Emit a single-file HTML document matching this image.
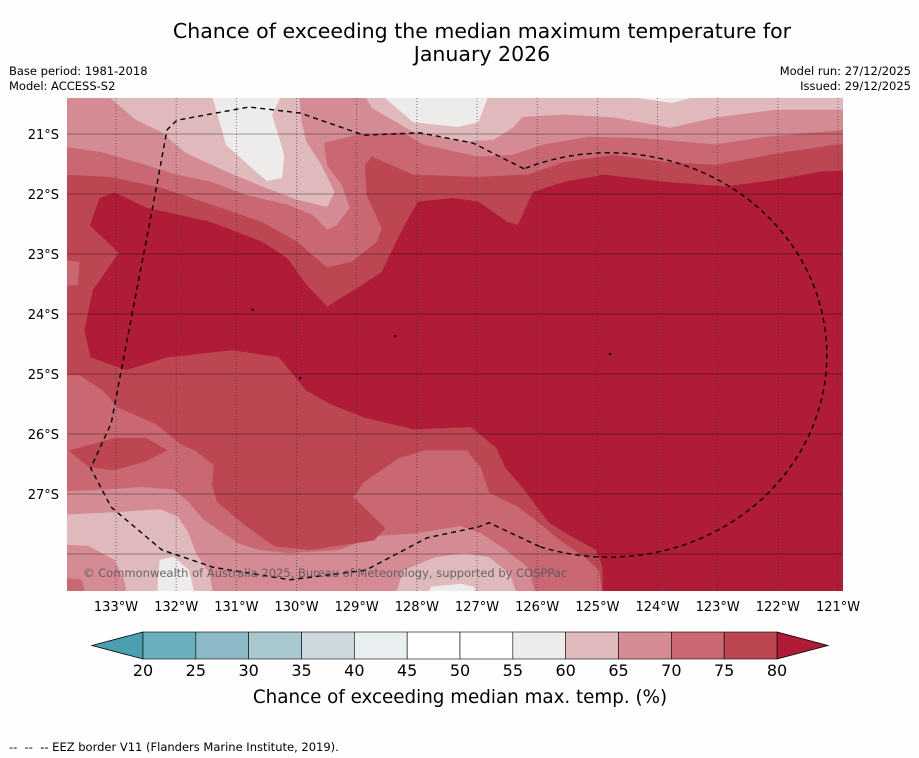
<!DOCTYPE html>
<html><head><meta charset="utf-8">
<style>
html,body{margin:0;padding:0;background:#fff;}
svg{display:block;font-family:"DejaVu Sans","Liberation Sans",sans-serif;}
</style></head>
<body>
<svg id="chart" width="919" height="758" viewBox="0 0 919 758" xmlns="http://www.w3.org/2000/svg">
  <rect x="0" y="0" width="919" height="758" fill="#fefefe"/>
  <text x="482" y="38" font-size="20.5" text-anchor="middle" fill="#000">Chance of exceeding the median maximum temperature for</text>
  <text x="482" y="61" font-size="20.5" text-anchor="middle" fill="#000">January 2026</text>
  <text x="9" y="75" font-size="11.5" fill="#000">Base period: 1981-2018</text>
  <text x="9" y="90" font-size="11.5" fill="#000">Model: ACCESS-S2</text>
  <text x="911" y="75" font-size="11.5" text-anchor="end" fill="#000">Model run: 27/12/2025</text>
  <text x="911" y="90" font-size="11.5" text-anchor="end" fill="#000">Issued: 29/12/2025</text>
  <defs><clipPath id="mapclip"><rect x="67" y="98" width="776" height="493"/></clipPath></defs>
  <g id="map" clip-path="url(#mapclip)"></g>
  <g id="axes"></g>
  <g id="cbar"></g>
  <text x="460" y="703" font-size="18.3" text-anchor="middle" fill="#000">Chance of exceeding median max. temp. (%)</text>
  <text x="9" y="751" font-size="11.5" fill="#000" xml:space="preserve" style="white-space:pre">--  --  -- EEZ border V11 (Flanders Marine Institute, 2019).</text>
</svg>
<script>
// ---- data ----
const lonTicks = [133,132,131,130,129,128,127,126,125,124,123,122,121];
const latTicks = [21,22,23,24,25,26,27];
const latLines = [21,22,23,24,25,26,27,28];
const levels = [20,25,30,35,40,45,50,55,60,65,70,75,80];
const levelColors = ["#6aafbd","#8bb9c5","#a9c8cd","#ccd8dd","#eaeff1","#ffffff","#ffffff","#eeeceb","#e0b9bd","#d48b94","#c96872","#bd4653"];
const underColor = "#4aa0b0";
const overColor = "#b01c38";
// contour regions [lonW, latS]
const blobA = [[131.50,20.0],[131.17,21.18],[130.67,21.63],[130.49,21.78],[130.24,21.73],[130.21,21.35],[130.32,20.97],[130.41,20.68],[130.08,20.0]];
const blobB = [[128.99,20.0],[128.06,20.80],[127.32,20.88],[126.98,20.80],[126.68,20.0]];
const blobC = [[124.40,20.0],[124.31,20.40],[123.76,20.48],[123.46,20.40],[123.40,20.0]];
const blobD = [[132.34,29],[132.27,28.10],[132.04,28.05],[131.79,28.27],[131.62,29]];
const blobE = [[128.0,29],[127.76,28.55],[127.28,28.50],[127.05,28.55],[126.93,29]];
const ge65 = [[134.5,20.0],[133.10,20.0],[133.10,20.40],[132.67,20.77],[132.25,20.97],[131.84,21.32],[131.17,21.63],[130.57,21.88],[129.99,22.10],[129.49,22.22],[129.36,21.97],[129.58,21.52],[129.83,21.13],[129.91,20.80],[129.99,20.0],[129.08,20.0],[128.75,20.57],[128.06,20.97],[127.23,21.13],[126.73,21.10],[126.40,20.90],[126.24,20.72],[125.55,20.68],[124.72,20.73],[123.79,20.90],[123.04,20.73],[122.05,20.60],[120.5,20.60],[120.5,29],[126.22,29],[126.45,28.33],[126.80,28.05],[127.22,27.98],[127.70,28.05],[128.23,28.27],[128.46,29],[131.32,29],[131.44,28.33],[131.67,27.98],[131.79,27.65],[131.97,27.37],[132.27,27.25],[133.03,27.30],[134.5,27.37]];
const ge65corner = [[134.5,27.82],[133.45,27.87],[133.03,28.10],[132.87,28.43],[132.75,29],[134.5,29]];
const ge70 = [[134.5,21.13],[133.27,21.30],[132.67,21.47],[132.0,21.68],[131.42,21.80],[130.84,22.02],[130.16,22.18],[129.74,22.35],[129.49,22.60],[129.33,22.52],[129.11,22.23],[129.24,21.85],[129.49,21.52],[129.54,21.15],[128.91,21.0],[128.23,20.98],[127.90,21.18],[126.98,21.38],[126.40,21.35],[125.89,21.18],[125.14,21.05],[124.31,21.07],[123.04,21.18],[122.21,21.05],[120.5,20.90],[120.5,29],[125.92,29],[126.15,28.22],[126.52,27.93],[126.93,27.65],[127.28,27.53],[128.0,27.65],[128.71,27.70],[129.29,27.93],[130.12,27.98],[130.61,27.93],[130.96,27.82],[131.32,27.58],[131.55,27.42],[131.79,27.13],[132.04,26.92],[132.57,26.88],[133.33,26.93],[134.5,26.97]];
const ge70corner = [[134.5,28.33],[133.58,28.43],[133.40,29],[134.5,29]];
const ge75 = [[134.5,21.65],[133.10,21.72],[132.25,21.90],[131.42,22.18],[130.57,22.47],[129.99,22.80],[129.49,23.23],[129.08,23.13],[128.66,22.80],[128.58,22.57],[128.83,22.02],[128.86,21.52],[128.75,21.38],[128.06,21.68],[126.98,21.72],[126.15,21.68],[125.55,21.47],[124.72,21.35],[123.88,21.47],[123.04,21.52],[121.96,21.32],[121.03,21.18],[120.5,21.18],[120.5,29],[124.86,29],[124.97,28.27],[125.21,28.05],[125.62,27.77],[126.04,27.42],[126.34,27.20],[126.80,26.97],[126.93,26.57],[127.17,26.27],[127.88,26.27],[128.30,26.40],[128.88,26.80],[129.06,27.05],[128.53,27.57],[128.71,27.77],[129.78,27.93],[130.37,27.87],[130.84,27.53],[131.32,27.13],[131.40,26.85],[131.37,26.52],[131.67,26.28],[131.92,26.17],[132.34,25.83],[132.98,25.55],[133.22,25.27],[133.60,25.02],[134.5,24.97],[134.5,23.60],[133.63,23.52],[133.60,23.13],[134.5,23.02]];
const ge75lens = [[133.78,26.28],[133.03,26.07],[132.50,26.07],[132.15,26.27],[132.50,26.45],[133.03,26.60],[133.45,26.55]];
const ge80 = [[133.43,22.52],[133.27,22.07],[133.02,21.98],[132.50,22.23],[131.42,22.47],[130.57,22.80],[130.16,23.07],[129.83,23.52],[129.49,23.88],[128.99,23.57],[128.58,23.30],[128.23,22.57],[127.98,22.13],[127.40,22.07],[126.98,22.13],[126.49,22.47],[126.32,22.52],[126.07,21.97],[125.55,21.80],[124.89,21.68],[123.88,21.80],[122.88,21.88],[122.05,21.77],[121.28,21.63],[120.5,21.60],[120.5,29],[124.91,29],[124.91,28.22],[125.02,27.93],[125.44,27.70],[125.80,27.48],[126.22,26.92],[126.52,26.57],[126.68,26.23],[127.10,25.88],[128.05,25.92],[128.88,25.72],[129.43,25.50],[129.84,25.27],[130.29,24.72],[131.06,24.60],[132.15,24.72],[132.83,24.93],[133.42,24.72],[133.52,24.27],[133.38,23.60],[132.95,22.98]];
const eezWest = [[126.22,21.58],[127.07,21.15],[127.95,20.98],[128.88,21.02],[129.94,20.65],[130.79,20.55],[131.99,20.77],[132.15,20.93],[132.40,22.27],[132.92,24.98],[133.08,25.82],[133.42,26.57],[133.08,27.22],[132.24,27.93],[131.39,28.22],[130.11,28.43],[128.85,28.27],[128.0,27.82],[127.83,27.73],[126.98,27.55],[126.80,27.48],[125.95,27.88]];
const eezCenter = [124.76,24.68];
const eezRadius = [3.62,3.37];
const islands = [[130.73,23.93],[128.36,24.37],[129.94,25.07],[124.79,24.67]];

// ---- axes functions ----
const NS="http://www.w3.org/2000/svg";
function xOf(w){return 116+(133-w)*60.17;}
function yOf(s){return 134+(s-21)*60;}
function ptsStr(arr){return arr.map(p=>xOf(p[0]).toFixed(1)+","+yOf(p[1]).toFixed(1)).join(" ");}
function mk(tag,attrs,parent){const e=document.createElementNS(NS,tag);for(const k in attrs)e.setAttribute(k,attrs[k]);parent.appendChild(e);return e;}

const map=document.getElementById('map');
const bg=mk('rect',{x:67,y:98,width:776,height:493,fill:"#e0b9bd"},map);


const layers=[
 [blobA,"#eeeceb","contour-55-60-a"],[blobB,"#eeeceb","contour-55-60-b"],[blobC,"#eeeceb","contour-55-60-c"],
 [blobD,"#eeeceb","contour-55-60-d"],[blobE,"#eeeceb","contour-55-60-e"],
 [ge65,"#d48b94","contour-65-70"],[ge65corner,"#d48b94","contour-65-70-corner"],
 [ge70,"#c96872","contour-70-75"],[ge70corner,"#c96872","contour-70-75-corner"],
 [ge75,"#bd4653","contour-75-80"],[ge75lens,"#bd4653","contour-75-80-lens"],
 [ge80,overColor,"contour-above-80"]];
layers.forEach(L=>{
  const p=mk('polygon',{points:ptsStr(L[0]),fill:L[1],stroke:L[1],"stroke-width":0.5},map);
  
  
});
// gridlines
lonTicks.forEach(w=>{
  const l=mk('line',{x1:xOf(w),x2:xOf(w),y1:98,y2:591,stroke:"#333","stroke-width":0.8,"stroke-dasharray":"1,2","stroke-opacity":0.8},map);
  
  
});
latLines.forEach(s=>{
  const l=mk('line',{x1:67,x2:843,y1:yOf(s),y2:yOf(s),stroke:"#000","stroke-width":0.8,"stroke-opacity":0.45},map);
  
  
});
// EEZ border
const c=eezCenter, rx=eezRadius[0]*60.17, ry=eezRadius[1]*60;
let d="M"+ptsStr(eezWest).split(" ").join(" L");
const st=eezWest[0];
d+=" M"+xOf(eezWest[eezWest.length-1][0]).toFixed(1)+","+yOf(eezWest[eezWest.length-1][1]).toFixed(1)+" A"+rx.toFixed(1)+","+ry.toFixed(1)+" 0 1 0 "+xOf(st[0]).toFixed(1)+","+yOf(st[1]).toFixed(1);
const eez=mk('path',{d:d,fill:"none",stroke:"#000","stroke-width":1.4,"stroke-dasharray":"5,4"},map);


islands.forEach(p=>{
  const r=mk('rect',{x:xOf(p[0])-1,y:yOf(p[1])-1,width:2,height:2,fill:"#000"},map);
  
  
});
const cp=mk('text',{x:83,y:577,"font-size":11.5,fill:"#555","fill-opacity":0.85},map);
cp.textContent="© Commonwealth of Australia 2025, Bureau of Meteorology, supported by COSPPac";



// axis labels
const axes=document.getElementById('axes');
lonTicks.forEach(w=>{
  const t=mk('text',{x:xOf(w),y:611,"font-size":13,"text-anchor":"middle",fill:"#000"},axes);
  t.textContent=w+"°W";
  
  
});
latTicks.forEach(s=>{
  const t=mk('text',{x:59,y:yOf(s)+5,"font-size":13,"text-anchor":"end",fill:"#000"},axes);
  t.textContent=s+"°S";
  
  
});

// colorbar
const cb=document.getElementById('cbar');
const cx0=143, cx1=777, cy0=632, cy1=659;
function cbX(v){return cx0+(v-levels[0])/(levels[levels.length-1]-levels[0])*(cx1-cx0);}
const under=mk('polygon',{points:cx0+","+cy0+" 92,"+((cy0+cy1)/2)+" "+cx0+","+cy1,fill:underColor,stroke:"#000","stroke-width":0.8},cb);


const over=mk('polygon',{points:cx1+","+cy0+" 828,"+((cy0+cy1)/2)+" "+cx1+","+cy1,fill:overColor,stroke:"#000","stroke-width":0.8},cb);


levelColors.forEach((col,i)=>{
  const r=mk('rect',{x:cbX(levels[i]),y:cy0,width:cbX(levels[i+1])-cbX(levels[i]),height:cy1-cy0,fill:col,stroke:"#000","stroke-width":0.6},cb);
  
  
});
levels.forEach(v=>{
  const t=mk('text',{x:cbX(v),y:676,"font-size":16,"text-anchor":"middle",fill:"#000"},cb);
  t.textContent=v;
  
  
});
</script>
</body></html>
